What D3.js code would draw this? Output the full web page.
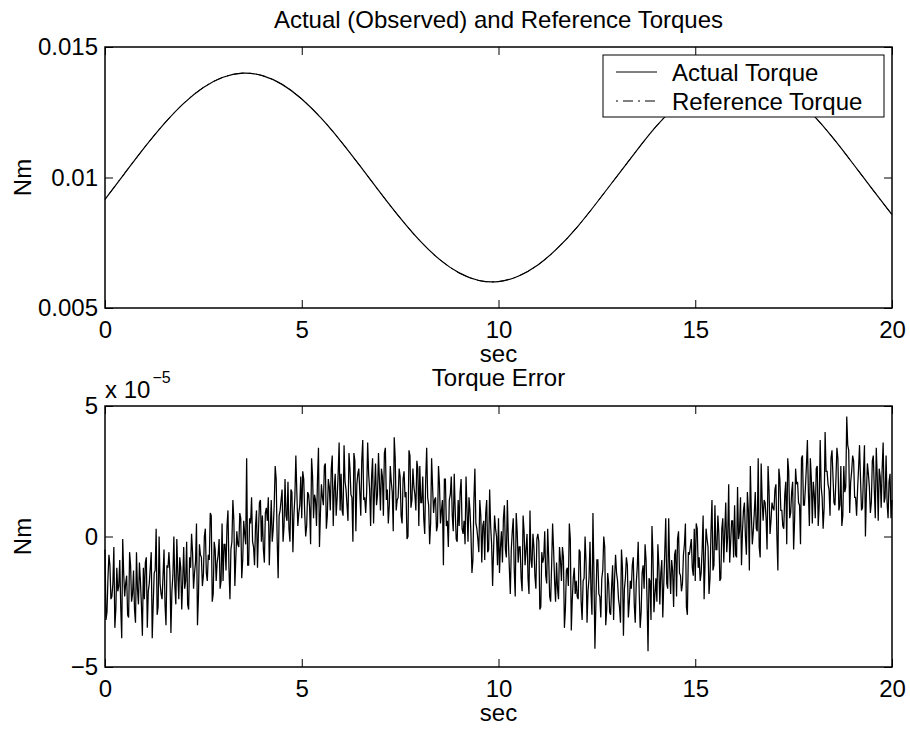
<!DOCTYPE html>
<html><head><meta charset="utf-8">
<script src="https://cdn.jsdelivr.net/npm/d3@7"></script>
<style>
body{margin:0;background:#fff}
svg text{font-family:"Liberation Sans",Arial,Helvetica,sans-serif;fill:#000}
</style>
</head><body>
<svg id="chart" width="910" height="729"></svg>
<script>
// ---------- data ----------
const torqueTimeStep = 0.5; // s
const actualTorque = [
0.009166,0.010160,0.011144,0.012056,0.012842,0.013450,0.013843,0.013998,0.013904,0.013568,
0.013010,0.012264,0.011378,0.010406,0.009410,0.008450,0.007578,0.006863,0.006345,0.006055,
0.006012,0.006218,0.006649,0.007293,0.008102,0.009042,0.010027,0.011010,0.011946,0.012736,
0.013402,0.013816,0.013995,0.013930,0.013632,0.013102,0.012388,0.011514,0.010546,0.009552,
0.008574];
const referenceTorque = [
0.009166,0.010160,0.011144,0.012056,0.012842,0.013450,0.013843,0.013998,0.013904,0.013568,
0.013010,0.012264,0.011378,0.010406,0.009410,0.008450,0.007578,0.006863,0.006345,0.006055,
0.006012,0.006218,0.006649,0.007293,0.008102,0.009042,0.010027,0.011010,0.011946,0.012736,
0.013402,0.013816,0.013995,0.013930,0.013632,0.013102,0.012388,0.011514,0.010546,0.009552,
0.008574];

const errorTimeStep = 0.025; // s
// torque error, in units of 1e-5 Nm (one row per second)
const torqueError = [
-0.5,-3.2,-2.9,-1.6,-0.7,-1.1,-2.4,-2.3,-1.8,-0.4,-3.5,-2.8,-1.2,-2.1,-1.9,-0.9,-2.7,-3.9,-0.1,-1.4,-2.3,-1.8,-1.5,-3.0,-3.1,-0.6,-1.1,-2.5,-2.2,-1.3,-2.8,-3.3,-0.6,-2.0,-2.6,-1.0,-1.7,-2.6,-3.8,-1.2,
-2.4,-1.0,-0.8,-3.5,-2.1,-1.8,-1.2,-0.6,-3.9,-2.6,-1.4,-1.3,0.3,-3.0,-2.7,0.0,-1.8,-2.2,-2.4,-1.5,-0.5,-2.6,-3.4,-1.1,-1.2,-0.6,-1.4,-3.7,-2.1,-1.5,0.0,-1.9,-2.6,-0.1,-1.4,-2.4,-0.8,-1.2,-2.8,-1.7,
-0.4,-2.0,-1.7,-0.2,-2.6,-2.8,-0.8,-1.2,0.1,-0.6,-2.0,-1.4,-1.0,0.5,-3.4,-2.3,-0.3,-0.7,-0.8,-1.9,-1.5,0.0,0.3,-1.4,-1.7,-0.7,-0.9,0.9,0.8,-2.5,-2.2,-0.2,-0.5,-1.7,-1.0,-0.7,-0.1,-2.0,-1.7,0.5,
-1.7,-0.3,-0.3,-1.3,0.4,1.0,-1.2,-2.4,-0.5,-0.2,1.4,0.6,-1.9,-0.8,0.2,-0.3,-0.4,0.9,0.7,-1.6,-0.9,0.6,0.1,-0.3,3.0,-1.1,-1.1,0.7,0.5,1.5,-0.2,-0.4,-1.1,0.4,1.0,-1.2,0.2,1.3,1.4,-0.2,
0.8,-0.5,-1.0,0.9,1.1,0.6,1.5,-1.1,0.2,1.4,-0.2,0.3,1.2,2.7,2.2,-0.1,-1.6,0.8,1.0,1.4,1.8,-0.2,0.4,2.2,0.8,0.6,2.1,0.3,-0.2,1.8,1.7,-0.6,0.8,1.5,3.1,1.7,0.4,0.9,1.2,2.3,
0.7,2.5,2.2,0.9,0.0,0.4,1.7,1.6,1.1,-0.3,3.0,2.3,0.7,1.6,1.4,0.4,2.2,3.4,-0.4,0.9,2.0,1.5,1.2,2.7,2.8,0.3,0.8,2.2,1.9,1.0,2.6,3.1,0.4,1.8,2.4,0.8,1.5,2.4,3.6,1.0,
2.4,1.0,0.8,3.5,2.1,1.8,1.2,0.6,3.2,2.6,1.6,1.5,-0.2,3.2,2.9,0.2,2.0,2.4,2.6,1.7,0.8,2.9,3.7,1.4,1.5,0.9,1.7,3.6,2.4,1.8,0.4,2.3,3.0,0.5,1.8,2.8,1.2,1.6,3.2,2.1,
1.0,2.6,2.3,0.8,3.2,3.4,1.4,1.8,0.5,1.2,2.7,2.1,1.7,0.2,3.8,3.0,1.0,1.4,1.5,2.6,2.3,0.8,0.5,2.2,2.5,1.5,1.7,-0.1,0.0,3.3,3.1,1.1,1.4,2.6,1.9,1.6,1.0,2.9,2.6,0.4,
2.7,1.3,1.3,2.3,0.7,0.1,2.2,3.4,1.5,1.2,-0.3,0.5,3.0,1.9,0.9,1.4,1.5,0.2,0.4,2.7,2.0,0.5,1.0,1.4,-1.1,2.2,2.2,0.4,0.6,-0.4,1.4,1.6,2.3,0.8,0.2,2.4,1.0,-0.1,-0.2,1.4,
0.4,1.7,2.2,0.3,0.1,0.6,-0.3,2.3,1.0,-0.2,1.5,1.0,0.1,-1.4,-0.9,1.4,2.6,0.5,0.3,-0.1,-0.6,1.4,0.8,-1.0,0.4,0.6,-0.9,0.9,1.4,-0.6,-0.5,1.8,0.4,-0.3,-1.9,-0.5,0.8,0.3,0.0,-1.1,
0.7,-1.4,-0.4,0.2,-1.0,0.7,1.2,-0.5,-0.8,1.4,-0.1,-1.2,-2.2,-0.5,0.2,0.7,-1.3,-2.3,0.9,0.2,-1.0,-0.4,-0.4,-1.6,-2.1,0.8,0.2,-1.1,-0.5,0.1,-1.6,-2.2,1.0,-0.9,-1.2,0.1,-0.4,-1.5,-2.0,-0.1,
0.1,-0.2,-2.8,-2.7,-0.6,-1.0,-0.8,0.2,-1.5,-1.8,0.3,-0.8,-2.3,-2.5,-1.1,0.5,-0.5,-1.7,-2.5,-1.0,-2.0,-2.4,-0.4,-0.9,-1.7,-0.4,-0.8,-3.5,-2.8,-1.3,-1.2,-1.9,0.5,-0.1,-3.6,-2.4,-1.6,-1.2,-2.2,-1.7,
-2.3,-2.4,-0.5,-0.6,-2.5,-3.2,-1.7,-1.6,0.0,-1.0,-3.3,-2.1,-1.6,-0.2,-2.1,-3.0,0.9,-1.4,-4.3,-2.6,-0.9,-0.9,-2.2,-2.3,-3.1,-1.6,-1.3,0.0,-0.4,-3.4,-2.8,-1.4,-1.8,-2.9,-3.0,-1.9,-1.1,-3.2,-1.6,-0.7,
-1.4,-1.7,-2.4,-2.7,-3.3,-0.5,-1.2,-3.8,-2.0,-1.6,-0.8,-1.1,-3.1,-2.5,-1.7,-2.0,-1.1,-0.8,-2.6,-3.3,-1.8,-1.2,-0.2,-2.1,-3.5,-2.9,-1.4,-1.1,-2.0,-0.3,-0.9,-2.4,-4.4,-1.6,-1.7,-3.2,0.4,-0.7,-2.9,-2.2,
-1.6,-2.5,-0.3,-1.1,-2.6,-1.4,-0.9,-3.1,-1.8,-0.6,0.7,-1.8,-2.0,0.7,-1.2,-2.2,-0.9,-1.3,-2.7,-0.7,-0.5,-2.3,-0.1,0.2,-1.4,-1.5,-2.1,-1.8,-0.7,-0.3,0.5,-2.7,-3.0,-0.6,-0.7,-0.4,-0.1,-1.2,-1.5,0.3,
-1.7,0.5,0.3,-1.2,-0.8,-1.7,-1.4,-0.5,0.8,-2.4,-1.0,0.3,-0.1,-0.4,-2.2,-1.6,0.2,1.4,-1.3,-1.1,1.2,-0.5,-0.5,0.8,0.1,-1.7,-1.6,0.3,0.7,-1.0,0.2,1.3,-0.6,0.0,2.0,-1.0,-0.2,0.6,0.6,-0.8,
1.2,-0.7,-0.8,1.9,-0.1,0.2,1.5,-1.1,0.2,1.0,1.3,0.0,-0.7,1.7,1.0,-1.3,2.7,0.9,-0.3,0.2,0.9,1.7,0.3,0.2,3.0,-0.4,-0.8,2.8,1.4,0.6,1.4,1.3,0.7,-0.5,2.7,1.8,0.1,0.6,1.3,1.1,
1.0,1.8,2.0,0.0,-1.3,2.6,2.2,1.0,1.0,0.4,0.3,1.6,2.1,-0.3,3.0,2.5,0.7,0.9,1.7,2.1,-0.5,0.6,2.6,2.0,2.1,1.3,1.2,-0.3,3.0,3.1,1.2,1.2,1.9,2.7,3.7,1.7,0.4,3.0,2.2,0.5,
2.1,1.6,0.7,2.6,2.7,0.4,1.2,3.7,1.9,1.5,0.3,1.1,4.0,2.5,2.5,2.0,1.8,0.8,3.0,3.3,2.3,1.3,1.2,2.2,3.4,3.0,1.0,1.2,2.7,0.4,0.8,2.7,1.7,1.9,4.6,3.5,3.3,0.9,2.1,2.5,
3.1,2.9,1.5,1.5,0.8,1.8,2.6,3.5,2.2,1.0,1.1,2.4,3.5,0.0,1.7,2.8,2.4,1.9,0.9,1.3,2.9,3.1,1.8,0.7,3.4,2.3,0.6,2.6,2.3,1.1,2.6,3.6,1.3,1.5,3.1,1.3,0.7,2.1,2.4,0.7,
1.4];

const xTicks = [0, 5, 10, 15, 20];
const topYTicks = [0.005, 0.01, 0.015];
const topYTickLabels = ["0.005", "0.01", "0.015"];
const botYTicks = [-5, 0, 5];
const botYTickLabels = ["\u22125", "0", "5"];
const legendLabels = ["Actual Torque", "Reference Torque"];

// ---------- layout ----------
const svg = d3.select("#chart");
const L = 105, R = 892;
const top1 = 47, bot1 = 308, top2 = 406, bot2 = 667;
const FS = 24;

const x = d3.scaleLinear().domain([0, 20]).range([L, R]);
const y1 = d3.scaleLinear().domain([0.005, 0.015]).range([bot1, top1]);
const y2 = d3.scaleLinear().domain([-5, 5]).range([bot2, top2]);

function drawAxes(yScale, yTop, yBot, yTicks, yLabels) {
  const g = svg.append("g");
  const styleAxis = sel => {
    sel.select(".domain").remove();
    sel.selectAll(".tick line").attr("stroke", "#000").attr("stroke-width", 1);
    sel.selectAll("text").attr("font-size", FS)
      .attr("font-family", '"Liberation Sans",Arial,Helvetica,sans-serif').attr("fill", "#000");
    sel.attr("font-size", null).attr("font-family", null);
  };
  g.append("g").attr("transform", `translate(0,${yBot})`)
    .call(d3.axisBottom(x).tickValues(xTicks).tickFormat(d3.format("d"))
      .tickSizeInner(-8).tickSizeOuter(0).tickPadding(13)).call(styleAxis);
  g.append("g").attr("transform", `translate(0,${yTop})`)
    .call(d3.axisTop(x).tickValues(xTicks).tickFormat("")
      .tickSizeInner(-8).tickSizeOuter(0)).call(styleAxis);
  g.append("g").attr("transform", `translate(${L},0)`)
    .call(d3.axisLeft(yScale).tickValues(yTicks).tickFormat((d, i) => yLabels[i])
      .tickSizeInner(-8).tickSizeOuter(0).tickPadding(7)).call(styleAxis);
  g.append("g").attr("transform", `translate(${R},0)`)
    .call(d3.axisRight(yScale).tickValues(yTicks).tickFormat("")
      .tickSizeInner(-8).tickSizeOuter(0)).call(styleAxis);
  g.append("rect").attr("x", L).attr("y", yTop).attr("width", R - L).attr("height", yBot - yTop)
    .attr("fill", "none").attr("stroke", "#000").attr("stroke-width", 1.5);
}

// ---------- top plot ----------
const torqueLine = d3.line()
  .x((d, i) => x(i * torqueTimeStep)).y(d => y1(d)).curve(d3.curveNatural);
svg.append("path").datum(referenceTorque).attr("d", torqueLine)
  .attr("fill", "none").attr("stroke", "#000").attr("stroke-width", 1)
  .attr("stroke-dasharray", "2,5,10,5");
svg.append("path").datum(actualTorque).attr("d", torqueLine)
  .attr("fill", "none").attr("stroke", "#000").attr("stroke-width", 1.2);
drawAxes(y1, top1, bot1, topYTicks, topYTickLabels);

svg.append("text").attr("x", (L + R) / 2).attr("y", 28).attr("text-anchor", "middle")
  .attr("font-size", FS).text("Actual (Observed) and Reference Torques");
svg.append("text").attr("x", (L + R) / 2).attr("y", 362).attr("text-anchor", "middle")
  .attr("font-size", FS).text("sec");
svg.append("text").attr("transform", `translate(31,${(top1 + bot1) / 2}) rotate(-90)`)
  .attr("text-anchor", "middle").attr("font-size", FS).text("Nm");

// legend
const lg = svg.append("g");
lg.append("rect").attr("x", 603).attr("y", 55).attr("width", 281).attr("height", 62)
  .attr("fill", "#fff").attr("stroke", "#000").attr("stroke-width", 1);
legendLabels.forEach((lab, i) => {
  const ly = 72 + i * 29;
  lg.append("line").attr("x1", 616).attr("x2", 657).attr("y1", ly).attr("y2", ly)
    .attr("stroke", "#000").attr("stroke-width", 1)
    .attr("stroke-dasharray", i === 1 ? "2,5,10,5" : null);
  lg.append("text").attr("x", 672).attr("y", ly + 9).attr("font-size", FS).text(lab);
});

// ---------- bottom plot ----------
const errLine = d3.line().x((d, i) => x(i * errorTimeStep)).y(d => y2(d));
svg.append("path").datum(torqueError).attr("d", errLine)
  .attr("fill", "none").attr("stroke", "#000").attr("stroke-width", 1.25)
  .attr("stroke-linejoin", "miter");
drawAxes(y2, top2, bot2, botYTicks, botYTickLabels);

svg.append("text").attr("x", (L + R) / 2).attr("y", 386).attr("text-anchor", "middle")
  .attr("font-size", FS).text("Torque Error");
svg.append("text").attr("x", (L + R) / 2).attr("y", 721).attr("text-anchor", "middle")
  .attr("font-size", FS).text("sec");
svg.append("text").attr("transform", `translate(31,${(top2 + bot2) / 2}) rotate(-90)`)
  .attr("text-anchor", "middle").attr("font-size", FS).text("Nm");
const mult = svg.append("text").attr("x", L).attr("y", 398).attr("font-size", FS);
mult.append("tspan").text("x 10");
mult.append("tspan").attr("font-size", 16).attr("dx", 2).attr("dy", -15).text("\u22125");
</script>
</body></html>
